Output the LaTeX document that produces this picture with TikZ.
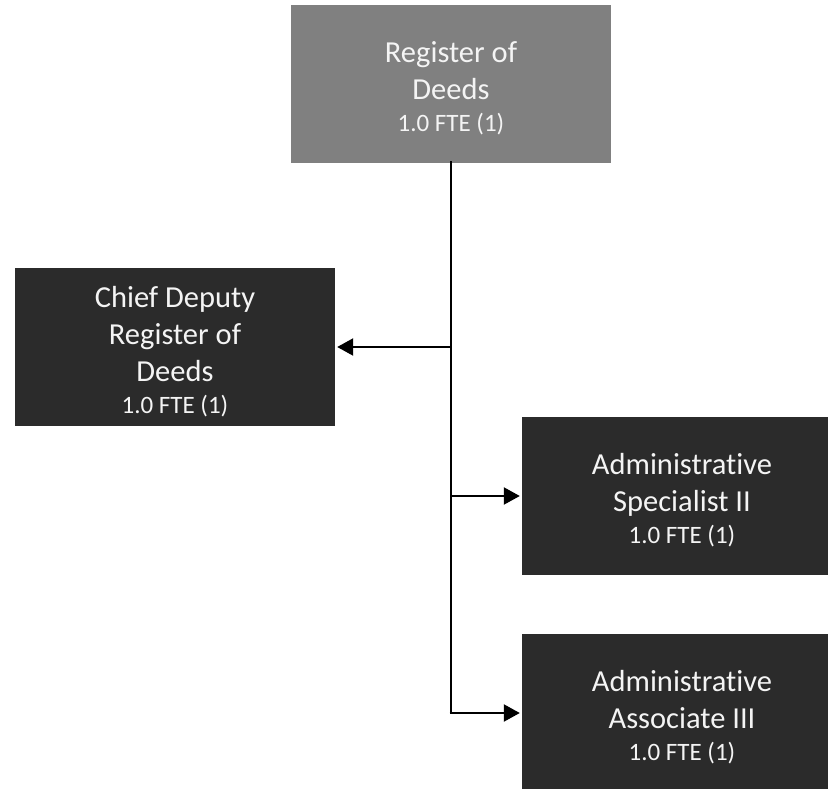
\documentclass[tikz,border=0pt]{standalone}
\usepackage{fontspec}
\setmainfont{Carlito}[Ligatures=NoCommon]
\usetikzlibrary{arrows.meta}
\definecolor{topfill}{HTML}{808080}
\definecolor{darkfill}{HTML}{2B2B2B}
\definecolor{txt}{HTML}{F4F4F4}
\tikzset{
  box/.style={rectangle, minimum width=320pt, minimum height=158pt, inner sep=0pt,
    align=center, text=txt, font=\fontsize{30.5}{37}\selectfont},
  topbox/.style={box, fill=topfill},
  darkbox/.style={box, fill=darkfill},
  conn/.style={draw=black, line width=2.6pt},
  arr/.style={draw=black, line width=2.2pt, -{Triangle[length=16pt,width=17pt]}, shorten >=2pt},
}
\newcommand{\fte}{\fontsize{25}{30}\selectfont 1.0 FTE (1)}
\newcommand{\up}{\rule{0pt}{30pt}}
\begin{document}
\begin{tikzpicture}[x=1pt,y=-1pt]
\clip (0,0) rectangle (828,789);
\fill[white] (0,0) rectangle (828,789);
\node[topbox] (top) at (451,84) {\up Register of\\Deeds\\[-5pt]\fte};
\node[darkbox] (chief) at (175,347) {\up Chief Deputy\\Register of\\Deeds\\[-5pt]\fte};
\node[darkbox] (spec) at (682,496) {\up Administrative\\Specialist II\\[-5pt]\fte};
\node[darkbox] (assoc) at (682,713) {\up Administrative\\Associate III\\[-5pt]\fte};
\coordinate (j3) at (top.south |- assoc.west);
\draw[conn] ([yshift=2pt]top.south) -- (j3);
\draw[arr] ([xshift=-1.3pt]j3) -- (assoc.west);
\draw[arr] (top.south |- chief.east) -- (chief.east);
\draw[arr] (top.south |- spec.west) -- (spec.west);
\end{tikzpicture}
\end{document}
